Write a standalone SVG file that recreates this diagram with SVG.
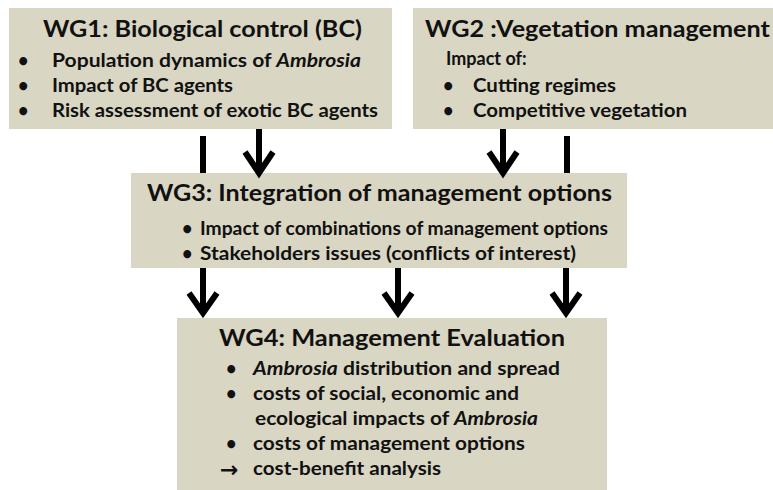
<svg xmlns="http://www.w3.org/2000/svg" width="773" height="490" viewBox="0 0 773 490">
<style>
.box{fill:#d9d6c3;stroke:none}
.t{font-family:Lato,"Liberation Sans",sans-serif;font-weight:bold;fill:#111}
.h{font-size:22px}
.b{font-size:18px}
.i{font-style:italic}
.ln{stroke:#000;stroke-width:6;fill:none}
.hd{stroke:#000;stroke-width:6;fill:none;stroke-linejoin:miter;stroke-miterlimit:10}
</style>
<rect width="773" height="490" fill="#fff"/>
<g id="wg1">
<rect class="box" x="9" y="8" width="383" height="121"/>
<text class="t h" x="43" y="37" textLength="319" lengthAdjust="spacingAndGlyphs">WG1: Biological control (BC)</text>
<text class="t b" x="18" y="67">•</text>
<text class="t b" x="52" y="67" textLength="309" lengthAdjust="spacingAndGlyphs">Population dynamics of <tspan class="i">Ambrosia</tspan></text>
<text class="t b" x="18" y="92">•</text>
<text class="t b" x="52" y="92" textLength="181" lengthAdjust="spacingAndGlyphs">Impact of BC agents</text>
<text class="t b" x="18" y="117">•</text>
<text class="t b" x="52" y="117" textLength="326" lengthAdjust="spacingAndGlyphs">Risk assessment of exotic BC agents</text>
</g>
<g id="wg2">
<rect class="box" x="413" y="8" width="360" height="121"/>
<text class="t h" x="425" y="37" textLength="345" lengthAdjust="spacingAndGlyphs">WG2 :Vegetation management</text>
<text class="t b" x="446" y="65">Impact of:</text>
<text class="t b" x="443" y="92">•</text>
<text class="t b" x="473" y="92" textLength="143" lengthAdjust="spacingAndGlyphs">Cutting regimes</text>
<text class="t b" x="443" y="117">•</text>
<text class="t b" x="473" y="117" textLength="214" lengthAdjust="spacingAndGlyphs">Competitive vegetation</text>
</g>
<g id="wg3">
<rect class="box" x="131" y="173" width="496" height="95"/>
<text class="t h" x="147" y="201" textLength="465" lengthAdjust="spacingAndGlyphs">WG3: Integration of management options</text>
<text class="t b" x="182" y="235">•</text>
<text class="t b" x="200" y="235" textLength="408" lengthAdjust="spacingAndGlyphs">Impact of combinations of management options</text>
<text class="t b" x="182" y="260">•</text>
<text class="t b" x="200" y="260" textLength="376" lengthAdjust="spacingAndGlyphs">Stakeholders issues (conflicts of interest)</text>
</g>
<g id="wg4">
<rect class="box" x="177" y="318" width="430" height="172"/>
<text class="t h" x="219" y="346" textLength="346" lengthAdjust="spacingAndGlyphs">WG4: Management Evaluation</text>
<text class="t b" x="226" y="375">•</text>
<text class="t b" x="253" y="375" textLength="307" lengthAdjust="spacingAndGlyphs"><tspan class="i">Ambrosia</tspan> distribution and spread</text>
<text class="t b" x="226" y="400">•</text>
<text class="t b" x="253" y="400" textLength="266" lengthAdjust="spacingAndGlyphs">costs of social, economic and</text>
<text class="t b" x="255" y="425" textLength="283" lengthAdjust="spacingAndGlyphs">ecological impacts of <tspan class="i">Ambrosia</tspan></text>
<text class="t b" x="226" y="450">•</text>
<text class="t b" x="253" y="450" textLength="272" lengthAdjust="spacingAndGlyphs">costs of management options</text>
<text x="220" y="477" style="font-family:'DejaVu Sans',sans-serif;font-size:22px;font-weight:bold;fill:#111">→</text>
<text class="t b" x="253" y="475" textLength="188" lengthAdjust="spacingAndGlyphs">cost-benefit analysis</text>
</g>
<g id="connectors">
<line class="ln" x1="203" y1="136" x2="203" y2="173"/>
<line class="ln" x1="567" y1="136" x2="567" y2="173"/>
<line class="ln" x1="259" y1="129" x2="259" y2="172"/>
<path class="hd" d="M245,152 L259,173 L273,152"/>
<line class="ln" x1="503" y1="129" x2="503" y2="172"/>
<path class="hd" d="M489,152 L503,173 L517,152"/>
<line class="ln" x1="203" y1="268" x2="203" y2="312"/>
<path class="hd" d="M189,293 L203,313 L217,293"/>
<line class="ln" x1="398" y1="268" x2="398" y2="312"/>
<path class="hd" d="M384,293 L398,313 L412,293"/>
<line class="ln" x1="566" y1="268" x2="566" y2="312"/>
<path class="hd" d="M552,293 L566,313 L580,293"/>
</g>
</svg>
